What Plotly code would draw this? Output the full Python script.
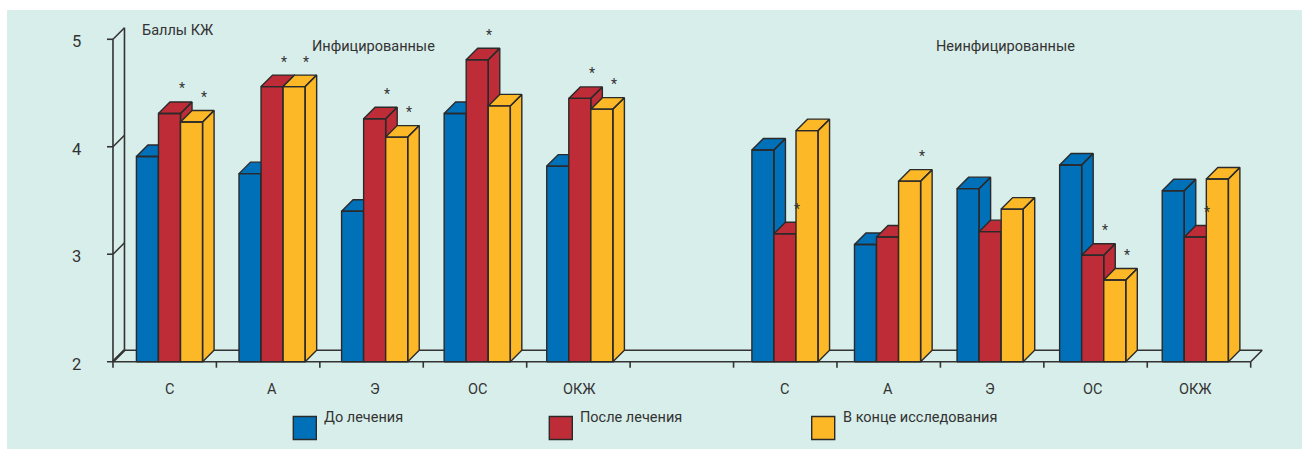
import numpy as np
import plotly.graph_objects as go

# ---- data -------------------------------------------------------------
categories = ["С", "А", "Э", "ОС", "ОКЖ"]
group_titles = ["Инфицированные", "Неинфицированные"]
series_names = ["До лечения", "После лечения", "В конце исследования"]
y_ticks = [2, 3, 4, 5]
y_title = "Баллы КЖ"

infected_before = [3.91, 3.75, 3.40, 4.31, 3.82]
infected_after = [4.31, 4.56, 4.26, 4.81, 4.45]
infected_end = [4.23, 4.56, 4.09, 4.38, 4.35]

noninfected_before = [3.97, 3.09, 3.61, 3.83, 3.59]
noninfected_after = [3.19, 3.16, 3.21, 2.99, 3.16]
noninfected_end = [4.15, 3.68, 3.42, 2.76, 3.70]

# significance marks (*) per bar
infected_after_sig = [1, 1, 1, 1, 1]
infected_end_sig = [1, 1, 1, 0, 1]
noninfected_after_sig = [1, 0, 0, 1, 1]
noninfected_end_sig = [0, 1, 0, 1, 0]

# ---- styling ----------------------------------------------------------
W, H = 1302, 449
COLORS = ["#0070b8", "#be2c37", "#fdb827"]
EDGE = "#2a2a2a"
AXIS = "#333333"
BG = "#d8eeea"
FONT = "Roboto, Liberation Sans, Arial, sans-serif"
TXT = "#333333"
FS = 14.5

PX_PER_CAT = 102.58      # pixels per category slot
CAT0_PX = 169.5          # pixel x of first slot centre
PX_PER_UNIT = 107.47     # pixels per score unit
BASE_PX = 361.7          # pixel y of score 2
DEPTH_PX = 11.5          # 3-D depth offset in pixels

DX = DEPTH_PX / PX_PER_CAT
DY = DEPTH_PX / PX_PER_UNIT
PXX = 1.0 / PX_PER_CAT   # one pixel in x data units
PXY = 1.0 / PX_PER_UNIT  # one pixel in y data units

BAR_W = 0.215
Y0 = y_ticks[0]
FLOOR_X0, FLOOR_X1 = -0.551, 10.540
N_SLOTS = 11

x_range = [-CAT0_PX / PX_PER_CAT, (W - CAT0_PX) / PX_PER_CAT]
y_range = [Y0 - (H - BASE_PX) / PX_PER_UNIT, Y0 + BASE_PX / PX_PER_UNIT]


def px_x(p):
    """pixel column -> x data value"""
    return (p - CAT0_PX) / PX_PER_CAT


def px_y(p):
    """pixel row -> y data value"""
    return Y0 + (BASE_PX - p) / PX_PER_UNIT


fig = go.Figure()

# ---- floor, walls and axes -------------------------------------------
ax_x, ax_y = [], []


def seg(xa, ya, xb, yb):
    ax_x.extend([xa, xb, None])
    ax_y.extend([ya, yb, None])


seg(FLOOR_X0 + DX, Y0 + DY, FLOOR_X1 + DX, Y0 + DY)          # floor back edge
seg(FLOOR_X0 - 6 * PXX, Y0, FLOOR_X1, Y0)                   # floor front edge
seg(FLOOR_X1, Y0, FLOOR_X1 + DX, Y0 + DY)                   # floor right edge
seg(FLOOR_X0, Y0, FLOOR_X0, y_ticks[-1])                    # front value axis
seg(FLOOR_X0 + DX, Y0 + DY, FLOOR_X0 + DX, y_ticks[-1] + DY)  # back corner
for v in y_ticks[1:]:
    seg(FLOOR_X0 - 6 * PXX, v, FLOOR_X0, v)
    seg(FLOOR_X0, v, FLOOR_X0 + DX, v + DY)
for t in np.linspace(FLOOR_X0, FLOOR_X1, N_SLOTS + 1):
    seg(t, Y0, t, Y0 - 6 * PXY)

fig.add_trace(go.Scatter(x=ax_x, y=ax_y, mode="lines",
                         line=dict(color=AXIS, width=1.6),
                         hoverinfo="skip", showlegend=False))
# heavier floor corner on the left
fig.add_trace(go.Scatter(x=[FLOOR_X0, FLOOR_X0 + DX], y=[Y0, Y0 + DY],
                         mode="lines", line=dict(color=AXIS, width=2.6),
                         hoverinfo="skip", showlegend=False))

# ---- 3-D bars ---------------------------------------------------------
groups = [
    (0, [infected_before, infected_after, infected_end],
     [None, infected_after_sig, infected_end_sig]),
    (6, [noninfected_before, noninfected_after, noninfected_end],
     [None, noninfected_after_sig, noninfected_end_sig]),
]

annotations = []
for start, series, sigs in groups:
    for ci, cat in enumerate(categories):
        slot = start + ci
        for k, vals in enumerate(series):
            v = vals[ci]
            x0 = slot + (k - 1.5) * BAR_W
            x1 = x0 + BAR_W
            xs = [x0, x1, x1, x0, x0, None,
                  x0, x1, x1 + DX, x0 + DX, x0, None,
                  x1, x1 + DX, x1 + DX, x1, x1]
            ys = [Y0, Y0, v, v, Y0, None,
                  v, v, v + DY, v + DY, v, None,
                  Y0, Y0 + DY, v + DY, v, Y0]
            fig.add_trace(go.Scatter(
                x=xs, y=ys, mode="lines", fill="toself",
                fillcolor=COLORS[k], line=dict(color=EDGE, width=1.4),
                name=series_names[k], hovertemplate=f"{cat}: {v}<extra></extra>",
                showlegend=False))
            if sigs[k] is not None and sigs[k][ci]:
                annotations.append(dict(
                    x=x1 + 1 * PXX, y=v, text="*", showarrow=False,
                    yshift=25, borderpad=0,
                    font=dict(size=14, color=TXT, family=FONT)))
        annotations.append(dict(
            x=slot, y=Y0, text=cat, showarrow=False, yshift=-28,
            font=dict(size=FS, color=TXT, family=FONT)))

# value axis labels
for v in y_ticks:
    annotations.append(dict(x=FLOOR_X0, y=v, text=str(v), showarrow=False,
                            xshift=-36, yshift=-2.5,
                            font=dict(size=16.5, color=TXT, family=FONT)))

# titles
annotations.append(dict(x=px_x(140), y=px_y(30.7), text=y_title,
                        showarrow=False, xanchor="left",
                        font=dict(size=FS, color=TXT, family=FONT)))
annotations.append(dict(x=px_x(311), y=px_y(46.5), text=group_titles[0],
                        showarrow=False, xanchor="left", borderpad=0,
                        font=dict(size=FS, color=TXT, family=FONT)))
annotations.append(dict(x=px_x(1005.5), y=px_y(46.5), text=group_titles[1],
                        showarrow=False,
                        font=dict(size=FS, color=TXT, family=FONT)))

# ---- legend -----------------------------------------------------------
shapes = [dict(type="rect", xref="paper", yref="paper",
               x0=7 / W, x1=1, y0=0, y1=1 - 10 / H,
               fillcolor=BG, line=dict(width=0), layer="below")]
legend_left_px = [293.3, 549.3, 811.7]
for k, name in enumerate(series_names):
    lx = legend_left_px[k]
    shapes.append(dict(type="rect", xref="paper", yref="paper",
                       x0=lx / W, x1=(lx + 23) / W,
                       y0=1 - 439.5 / H, y1=1 - 416.5 / H,
                       fillcolor=COLORS[k], line=dict(color=EDGE, width=1.4)))
    annotations.append(dict(xref="paper", yref="paper",
                            x=(lx + 29) / W, y=1 - 428 / H, xanchor="left",
                            text=name, showarrow=False,
                            font=dict(size=FS, color=TXT, family=FONT)))

fig.update_layout(
    width=W, height=H,
    margin=dict(l=0, r=0, t=0, b=0),
    paper_bgcolor="white", plot_bgcolor="rgba(0,0,0,0)",
    xaxis=dict(range=x_range, visible=False, fixedrange=True),
    yaxis=dict(range=y_range, visible=False, fixedrange=True),
    shapes=shapes, annotations=annotations, showlegend=False,
)

fig.write_html("out.html")
